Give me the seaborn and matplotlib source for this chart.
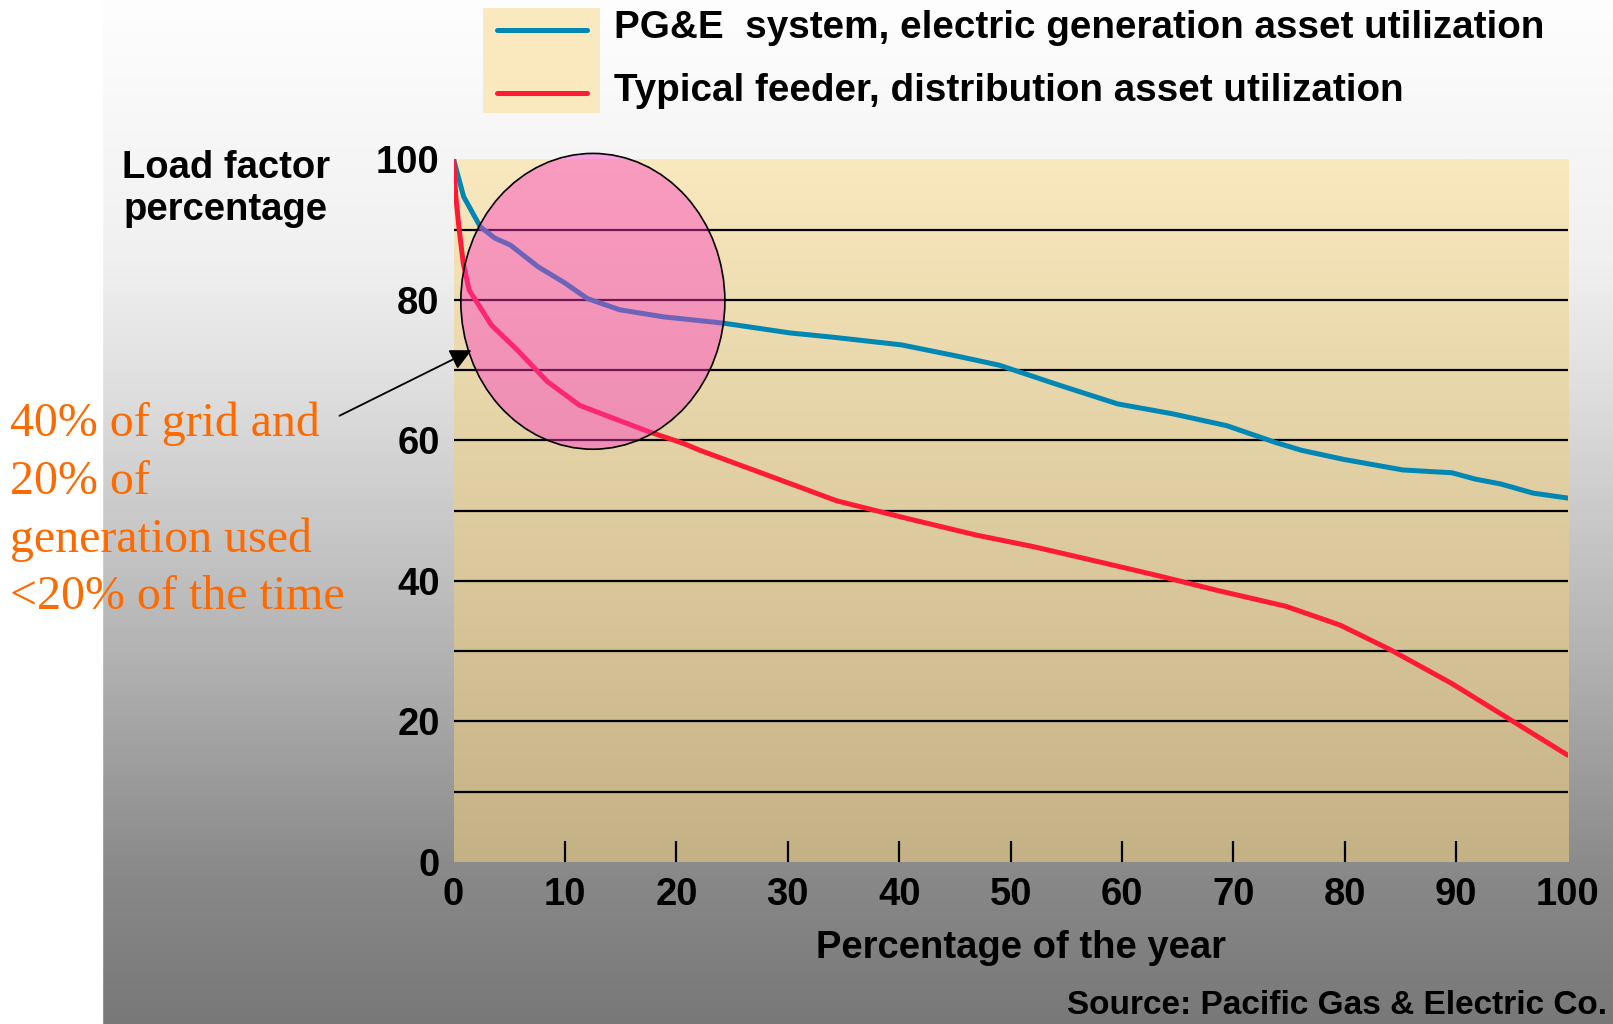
import numpy as np
import pandas as pd
import matplotlib
matplotlib.use('Agg')
import matplotlib.pyplot as plt
import seaborn as sns
from matplotlib.patches import Ellipse, Rectangle
from matplotlib.lines import Line2D

# data
gen_name = 'PG&E  system, electric generation asset utilization'
feeder_name = 'Typical feeder, distribution asset utilization'

gen_x = [0, 0.9, 2.4, 3.7, 5.1, 7.6, 10.0, 12.0, 14.9, 18.8, 24.2, 30.2, 34.0, 40.2,
         45.2, 49.0, 54.3, 59.6, 64.5, 69.4, 73.8, 76.1, 79.9, 85.2, 89.6, 91.7, 94.0,
         96.9, 100]
gen_y = [100, 94.7, 90.4, 88.8, 87.8, 84.7, 82.4, 80.2, 78.6, 77.6, 76.7, 75.3, 74.7, 73.6,
         72.0, 70.7, 67.9, 65.2, 63.8, 62.1, 59.7, 58.6, 57.3, 55.8, 55.4, 54.5, 53.8,
         52.5, 51.8]

feeder_x = [0, 0.2, 0.5, 0.87, 1.4, 3.4, 5.7, 8.4, 11.3, 14.6, 17.6, 20.6, 22.1, 28.1,
            34.4, 40.7, 47.0, 52.0, 58.0, 63.1, 68.7, 74.7, 79.6, 84.1, 89.6, 94.6, 100]
feeder_y = [100, 94.7, 90.0, 85.2, 81.4, 76.4, 72.9, 68.4, 65.0, 63.0, 61.2, 59.6, 58.6, 55.1,
            51.4, 48.9, 46.5, 44.9, 42.7, 40.8, 38.6, 36.4, 33.7, 30.2, 25.4, 20.5, 15.2]

x_ticks = [0, 10, 20, 30, 40, 50, 60, 70, 80, 90, 100]
y_ticks = [0, 20, 40, 60, 80, 100]
grid_levels = [10, 20, 30, 40, 50, 60, 70, 80, 90]

note_lines = ['40% of grid and', '20% of', 'generation used', '<20% of the time']

df = pd.concat([
    pd.DataFrame({'x': gen_x, 'y': gen_y, 'series': gen_name}),
    pd.DataFrame({'x': feeder_x, 'y': feeder_y, 'series': feeder_name}),
])

blue = '#0087B4'
red = '#FF1A35'

sns.set_theme(style='white')
plt.rcParams['font.family'] = ['Liberation Sans', 'DejaVu Sans']
plt.rcParams['text.color'] = 'black'

W, H = 1613, 1024
fig = plt.figure(figsize=(W / 100, H / 100), dpi=100)

def fx(px):
    return px / W

def fy(py):
    return 1 - py / H

# grey gradient background, white strip on the left
bg = fig.add_axes([0, 0, 1, 1], zorder=-2)
rows = np.arange(H)
g = np.interp(rows, [0, 260, 380, 640, 880, 1024], [254, 240, 224, 181, 136, 120]) / 255
bg.imshow(np.repeat(g[:, None, None], 3, axis=2), extent=[0, W, H, 0], aspect='auto')
bg.add_patch(Rectangle((0, 0), 102, H, color='white'))
bg.set_xlim(0, W)
bg.set_ylim(H, 0)
bg.axis('off')

ax = fig.add_axes([fx(453.6), fy(862), fx(1567.7) - fx(453.6), fy(159.4) - fy(862)])
ax.patch.set_alpha(0)

# beige plot area gradient
top_c = np.array([250, 233, 190]) / 255
bot_c = np.array([196, 177, 133]) / 255
t = np.linspace(0, 1, 256)[:, None]
grad = (top_c * (1 - t) + bot_c * t)[:, None, :]
ax.imshow(grad, extent=[0, 100, 0, 100], aspect='auto', zorder=0)

for lev in grid_levels:
    ax.axhline(lev, color='black', lw=1.6, zorder=1)

sns.lineplot(data=df, x='x', y='y', hue='series', palette=[blue, red],
             linewidth=3.6, estimator=None, sort=False, legend=False, ax=ax, zorder=2)
for ln in ax.lines[-2:]:
    ln.set_solid_capstyle('round')

ell = Ellipse((12.5, 79.8), 23.7, 42.1, facecolor=(0.98, 0.22, 0.76, 0.44),
              edgecolor='black', lw=1.2, zorder=3, clip_on=False)
ax.add_patch(ell)

ax.set_xlim(0, 100)
ax.set_ylim(0, 100)
for s in ax.spines.values():
    s.set_visible(False)

ax.set_xticks(x_ticks)
ax.set_xticks(x_ticks[1:-1], minor=True)
ax.xaxis.remove_overlapping_locs = False
ax.set_yticks(y_ticks)
ax.tick_params(axis='x', which='major', length=0, pad=11, labelsize=27.5)
ax.tick_params(axis='x', which='minor', direction='in', length=15, width=1.6,
               color='black', bottom=True)
ax.tick_params(axis='y', length=0, pad=10, labelsize=27.5)
for lab in ax.get_xticklabels() + ax.get_yticklabels():
    lab.set_fontweight('bold')
    lab.set_color('black')
ax.set_xlabel('')
ax.set_ylabel('')

fig.text(fx(1021.5), fy(947.5), 'Percentage of the year', ha='center', va='center',
         fontsize=27.5, fontweight='bold')
fig.text(fx(226), fy(189), 'Load factor\npercentage', ha='center', va='center',
         fontsize=27.5, fontweight='bold', linespacing=1.25)
fig.text(fx(1607), fy(1006), 'Source: Pacific Gas & Electric Co.', ha='right', va='center',
         fontsize=24, fontweight='bold')

# legend drawn by hand: beige box behind the line samples only
fig.patches.append(Rectangle((fx(483), fy(113)), fx(600) - fx(483), fy(8) - fy(113),
                             transform=fig.transFigure, facecolor='#FAE8BE',
                             edgecolor='none', zorder=1))
for yy, col, name in [(30, blue, gen_name), (93, red, feeder_name)]:
    fig.lines.append(Line2D([fx(497), fx(587)], [fy(yy), fy(yy)], transform=fig.transFigure,
                            color=col, lw=3.6, solid_capstyle='round', zorder=2))
    fig.text(fx(614), fy(yy - 2), name, ha='left', va='center', fontsize=27.8,
             fontweight='bold')

# orange note with arrow
for i, line in enumerate(note_lines):
    fig.text(fx(10), fy(424 + i * 57.7), line, ha='left', va='center', fontsize=34.5,
             color='#FF6A00', family=['Liberation Serif', 'DejaVu Serif'])
ax.annotate('', xy=(fx(474), fy(349)), xycoords='figure fraction',
            xytext=(fx(337), fy(417)), textcoords='figure fraction',
            arrowprops=dict(arrowstyle='-|>', color='black', lw=1.3, mutation_scale=32),
            zorder=5, annotation_clip=False)

plt.savefig('out.png', dpi=100)
